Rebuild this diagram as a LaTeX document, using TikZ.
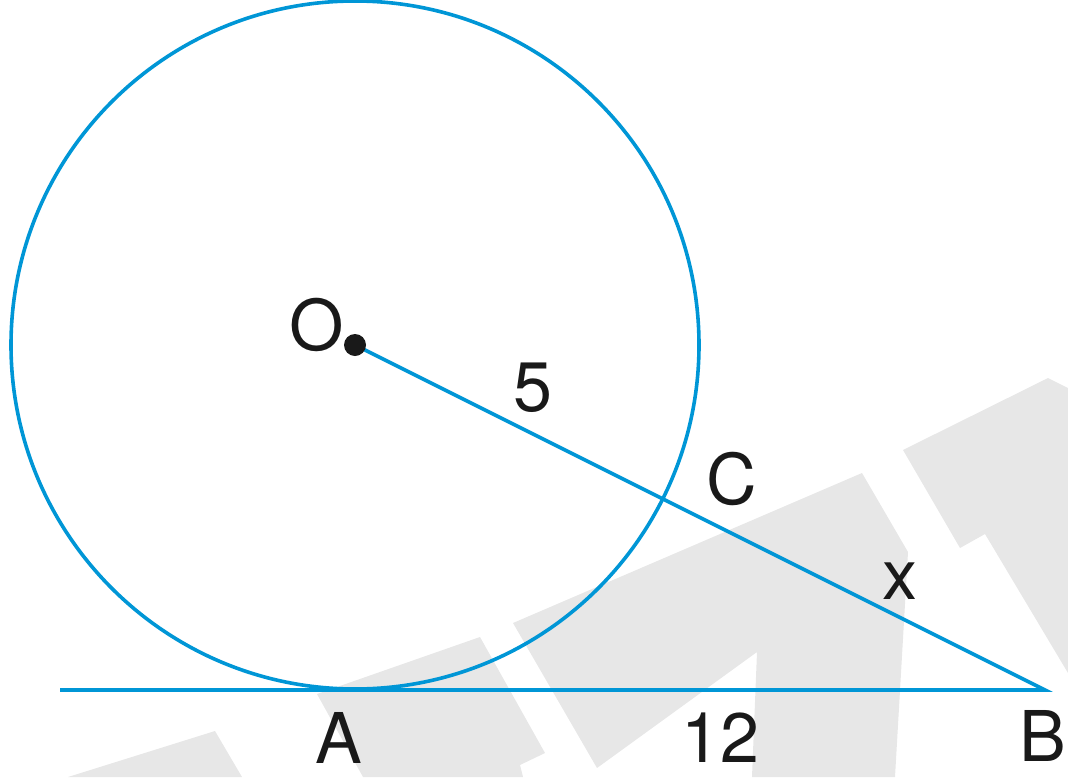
\documentclass[tikz,border=0pt]{standalone}
\usepackage{fontspec}
\setmainfont{TeX Gyre Heros}
\definecolor{geoblue}{RGB}{0,150,214}
\definecolor{wmgray}{RGB}{231,231,231}
\begin{document}
\begin{tikzpicture}[x=1pt,y=-1pt,
  geoline/.style={draw=geoblue,line width=3.6pt},
  wm/.style={fill=wmgray,draw=none},
  lbl/.style={inner sep=0pt,font=\fontsize{70}{84}\selectfont,text=black!90}]
\useasboundingbox (0,0) rectangle (1068,777);
% watermark shapes
\fill[wm] (68,777) -- (215,731) -- (242,777) -- cycle;
\fill[wm] (317,694) -- (480,637) -- (545,753) -- (520,765) -- (523,777) -- (363,777) -- cycle;
\fill[wm] (513,623) -- (862,473) -- (908,552) -- (895,777) -- (752,777) -- (757,652) -- (597,768) -- cycle;
\fill[wm] (903,450) -- (1048,378) -- (1068,388) -- (1068,673) -- (985,534) -- (960,548) -- cycle;
% geometry
\coordinate (O) at (355,345);
\coordinate (A) at (355,690);
\coordinate (B) at (1045,690);
\coordinate (L) at (60,690);
\draw[geoline] (O) circle[radius=344pt];
\draw[geoline,line join=miter] (O) -- (B) -- (L);
\fill[black!90] (O) circle[radius=11pt];
% labels
\node[lbl] (lO) at (317,325) {O};
\node[lbl] (l5) at (533,388) {5};
\node[lbl] (lC) at (732,479) {C};
\node[lbl] (lx) at (900,581) {x};
\node[lbl] (lA) at (339,738) {A};
\node[lbl] (l12) at (720,738) {12};
\node[lbl] (lB) at (1043,736) {B};
\end{tikzpicture}
\end{document}
